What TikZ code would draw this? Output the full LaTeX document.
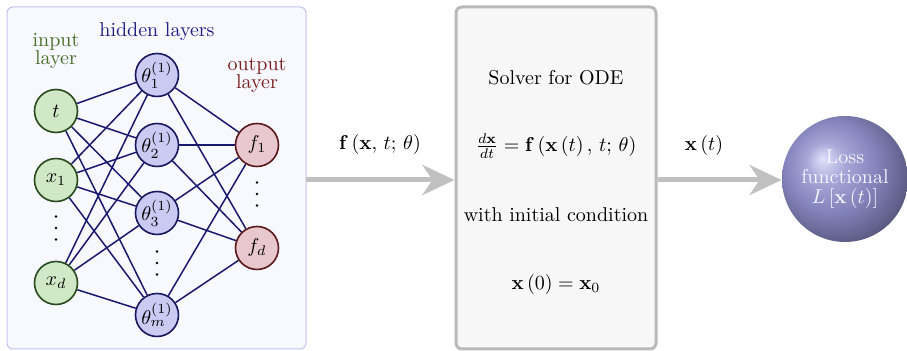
\documentclass[tikz,border=0pt]{standalone}
\usetikzlibrary{arrows.meta,shadings}
\definecolor{infill}{RGB}{208,232,198}
\definecolor{indraw}{RGB}{40,75,30}
\definecolor{intext}{RGB}{70,110,40}
\definecolor{hidfill}{RGB}{202,202,242}
\definecolor{hiddraw}{RGB}{25,25,95}
\definecolor{hidtext}{RGB}{30,30,130}
\definecolor{outfill}{RGB}{232,200,206}
\definecolor{outdraw}{RGB}{90,25,25}
\definecolor{outtext}{RGB}{120,30,30}
\definecolor{edgecol}{RGB}{25,25,110}
\definecolor{panelfill}{RGB}{248,248,255}
\definecolor{paneldraw}{RGB}{195,195,240}
\definecolor{boxfill}{RGB}{247,247,247}
\definecolor{boxdraw}{RGB}{185,185,185}
\definecolor{arrowgray}{RGB}{192,192,192}
\definecolor{ballA}{RGB}{225,225,252}
\definecolor{ballB}{RGB}{165,165,215}
\definecolor{ballC}{RGB}{132,132,188}
\definecolor{ballD}{RGB}{100,100,145}
\definecolor{ballE}{RGB}{72,72,100}
\pgfdeclareradialshading{lossball}{\pgfqpoint{-9bp}{8bp}}{color(0bp)=(ballA); color(8bp)=(ballB); color(18bp)=(ballC); color(27bp)=(ballD); color(34bp)=(ballE); color(50bp)=(ballE)}
\pgfdeclarelayer{panellayer}
\pgfdeclarelayer{edgelayer}
\pgfsetlayers{panellayer,edgelayer,main}
\begin{document}
\begin{tikzpicture}[x=0.5pt,y=-0.5pt,
  neuron/.style={circle,minimum size=21.5pt,inner sep=0pt,line width=0.8pt},
  innode/.style={neuron,fill=infill,draw=indraw},
  hidnode/.style={neuron,fill=hidfill,draw=hiddraw},
  outnode/.style={neuron,fill=outfill,draw=outdraw},
  conn/.style={draw=edgecol,line width=0.75pt},
  bigarrow/.style={draw=arrowgray,line width=2.5pt,-{Stealth[length=16pt,width=15pt,inset=5pt]}},
  dotnode/.style={inner sep=0pt,minimum size=0pt}
]
\useasboundingbox (0,0) rectangle (907,351);

% panel
\begin{pgfonlayer}{panellayer}
\node[draw=paneldraw,fill=panelfill,rounded corners=3pt,line width=0.5pt,minimum width=149.5pt,minimum height=171pt,inner sep=0pt] (panel) at (156.5,178) {};
\end{pgfonlayer}

% labels
\node[text=intext,align=center] (inlab) at (56,51) {input\\[-3pt]layer};
\node[text=hidtext] (hidlab) at (157,32) {hidden layers};
\node[text=outtext,align=center] (outlab) at (257,75) {output\\[-3pt]layer};

% input nodes
\node[innode] (t) at (56,111) {$t$};
\node[innode] (x1) at (56,180) {$x_1$};
\node[dotnode] (din) at (56,228) {};
\node[innode] (xd) at (56,283) {$x_d$};

% hidden nodes
\node[hidnode] (h1) at (157,75) {$\theta^{(1)}_1$};
\node[hidnode] (h2) at (157,145) {$\theta^{(1)}_2$};
\node[hidnode] (h3) at (157,213) {$\theta^{(1)}_3$};
\node[dotnode] (dhid) at (157,263) {};
\node[hidnode] (hm) at (157,315) {$\theta^{(1)}_m$};

% output nodes
\node[outnode] (f1) at (257,145) {$f_1$};
\node[dotnode] (dout) at (257,194) {};
\node[outnode] (fd) at (257,248) {$f_d$};

% vertical dots
\foreach \n in {din,dhid,dout}{
  \foreach \d in {-11.5,0,11.5}{
    \fill ([yshift=\d*0.5pt]\n) circle (0.65pt);
  }
}

\begin{pgfonlayer}{edgelayer}
\foreach \i in {t,x1,xd}{
  \foreach \h in {h1,h2,h3,hm}{
    \draw[conn] (\i) -- (\h);
  }
}
\foreach \h in {h1,h2,h3,hm}{
  \foreach \o in {f1,fd}{
    \draw[conn] (\h) -- (\o);
  }
}
\end{pgfonlayer}

% solver box
\node[draw=boxdraw,fill=boxfill,rounded corners=3pt,line width=1.5pt,minimum width=100pt,minimum height=171pt,inner sep=0pt] (solver) at (556,178) {};
\node (s1) at (556,78) {Solver for ODE};
\node (s2) at (556,146) {$\frac{d\mathbf{x}}{dt}=\mathbf{f}\left(\mathbf{x}\left(t\right),\,t;\,\theta\right)$};
\node (s3) at (556,215) {with initial condition};
\node (s4) at (556,285) {$\mathbf{x}\left(0\right)=\mathbf{x}_0$};

% loss sphere
\node[circle,minimum size=63pt,inner sep=0pt,shading=lossball,text=white!96!blue,align=center] (loss) at (845,179) {Loss\\[-2pt]functional\\[-2pt]$L\left[\mathbf{x}\left(t\right)\right]$};

% arrows
\coordinate (a1s) at (306,180);
\draw[bigarrow] (a1s) -- (solver.west |- a1s);
\node (a1lab) at (380,145) {$\mathbf{f}\left(\mathbf{x},\,t;\,\theta\right)$};
\coordinate (a2s) at (solver.east |- a1s);
\draw[bigarrow] (a2s) -- (loss.west |- a1s);
\node (a2lab) at (704,146) {$\mathbf{x}\left(t\right)$};
\end{tikzpicture}
\end{document}
